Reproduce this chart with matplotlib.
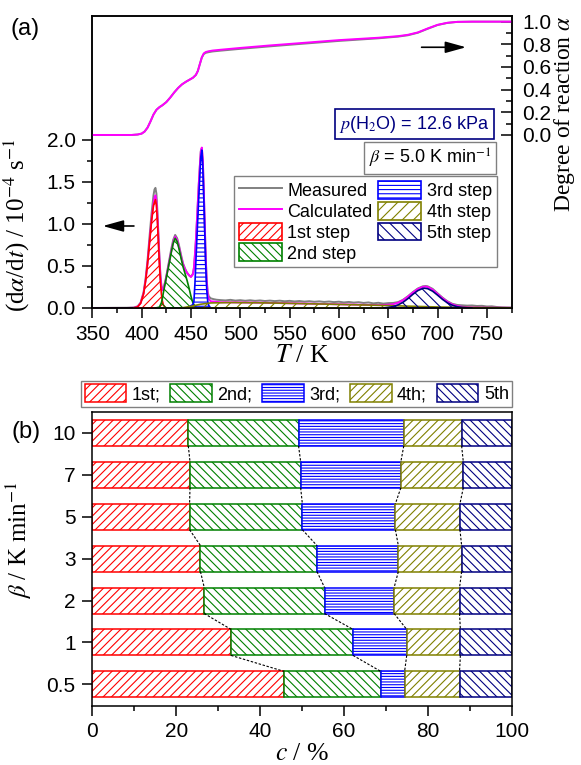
import matplotlib
matplotlib.use('Agg')
import numpy as np
import matplotlib.pyplot as plt
from matplotlib.ticker import MultipleLocator, FixedLocator

# ---- (a) dalpha/dt components (T in K, rate in 1e-4 s^-1) ----
red_T = [392, 396, 399, 402, 404, 406, 408, 410, 412, 414, 415, 416, 417, 418, 419, 420, 421, 422, 424, 426]
red_v = [0.0, 0.014, 0.056, 0.17, 0.32, 0.53, 0.78, 1.03, 1.22, 1.29, 1.22, 1.03, 0.78, 0.53, 0.32, 0.17, 0.085, 0.036, 0.005, 0.0]

green_T = [414, 418, 420, 421, 422, 424, 426, 428, 430, 432, 434, 436, 438, 440, 442, 444, 446, 448, 450, 452, 454, 456]
green_v = [0.0, 0.01, 0.06, 0.11, 0.18, 0.30, 0.42, 0.54, 0.66, 0.77, 0.83, 0.79, 0.70, 0.59, 0.49, 0.41, 0.33, 0.24, 0.14, 0.06, 0.02, 0.0]

blue_T = [446, 449, 452, 453, 454, 455, 456, 457, 458, 459, 460, 461, 462, 463, 464, 465, 466, 467, 468, 470]
blue_v = [0.0, 0.02, 0.04, 0.08, 0.28, 0.55, 0.82, 1.08, 1.34, 1.58, 1.80, 1.88, 1.70, 1.32, 0.90, 0.50, 0.22, 0.08, 0.03, 0.0]

olive_T = [440, 450, 460, 470, 490, 520, 560, 600, 640, 670, 700, 740, 775]
olive_v = [0.0, 0.02, 0.045, 0.06, 0.065, 0.062, 0.053, 0.043, 0.032, 0.022, 0.012, 0.005, 0.002]

navy_T = [645, 650, 655, 660, 665, 670, 675, 680, 685, 687, 690, 695, 700, 705, 710, 715, 720, 725, 730, 735]
navy_v = [0.0, 0.007, 0.017, 0.037, 0.068, 0.112, 0.163, 0.207, 0.233, 0.235, 0.230, 0.200, 0.153, 0.103, 0.061, 0.032, 0.015, 0.006, 0.002, 0.0]

calc_T = [350, 385, 392, 396, 399, 402, 404, 406, 408, 410, 412, 413, 414, 415, 416, 417, 418, 419, 420, 421,
          422, 424, 426, 428, 430, 432, 434, 436, 438, 440, 442, 444, 446, 448, 450, 452, 453, 454, 455, 456,
          457, 458, 459, 460, 461, 462, 463, 464, 465, 466, 467, 468, 470, 480, 500, 520, 560, 600, 640, 650,
          655, 660, 665, 670, 675, 680, 685, 688, 690, 695, 700, 705, 710, 715, 720, 725, 735, 750, 775]
calc_v = [0.0, 0.0, 0.002, 0.015, 0.058, 0.175, 0.325, 0.535, 0.79, 1.04, 1.24, 1.31, 1.34, 1.27, 1.09, 0.84, 0.59, 0.38, 0.25, 0.21,
          0.22, 0.31, 0.43, 0.55, 0.67, 0.78, 0.85, 0.81, 0.72, 0.61, 0.52, 0.46, 0.42, 0.39, 0.37, 0.40, 0.47, 0.62, 0.80, 1.02,
          1.25, 1.48, 1.68, 1.86, 1.91, 1.76, 1.39, 0.97, 0.57, 0.30, 0.16, 0.11, 0.08, 0.068, 0.066, 0.063, 0.054, 0.044, 0.034, 0.038,
          0.045, 0.062, 0.092, 0.135, 0.183, 0.226, 0.251, 0.255, 0.250, 0.218, 0.167, 0.116, 0.073, 0.042, 0.024, 0.014, 0.007, 0.004, 0.002]

meas_T = [350, 370, 385, 392, 396, 399, 402, 404, 406, 408, 410, 412, 413, 414, 415, 416, 417, 418, 419, 420,
          421, 422, 424, 426, 428, 430, 432, 434, 436, 438, 440, 442, 444, 446, 448, 450, 452, 453, 454, 455,
          456, 457, 458, 459, 460, 461, 462, 463, 464, 465, 466, 467, 468, 470, 473, 476, 480, 485, 490, 495,
          500, 505, 510, 515, 520, 525, 530, 535, 540, 545, 550, 555, 560, 565, 570, 575, 580, 585, 590, 595,
          600, 605, 610, 615, 620, 625, 630, 635, 640, 645, 650, 655, 660, 665, 670, 675, 680, 685, 688, 690,
          695, 700, 705, 710, 715, 720, 725, 730, 735, 740, 745, 750, 755, 760, 765, 770, 775]
meas_v = [0.0, 0.002, 0.003, 0.006, 0.02, 0.065, 0.19, 0.35, 0.57, 0.85, 1.12, 1.34, 1.41, 1.43, 1.36, 1.15, 0.88, 0.62, 0.40, 0.27,
          0.22, 0.23, 0.32, 0.44, 0.57, 0.70, 0.81, 0.87, 0.83, 0.74, 0.63, 0.53, 0.47, 0.42, 0.39, 0.37, 0.41, 0.48, 0.63, 0.81,
          1.03, 1.26, 1.49, 1.69, 1.87, 1.90, 1.76, 1.40, 0.99, 0.60, 0.33, 0.19, 0.14, 0.115, 0.105, 0.098, 0.094, 0.09, 0.097, 0.088,
          0.093, 0.086, 0.092, 0.085, 0.09, 0.083, 0.088, 0.082, 0.087, 0.08, 0.085, 0.078, 0.083, 0.076, 0.081, 0.074, 0.079, 0.072, 0.077, 0.07,
          0.075, 0.066, 0.072, 0.064, 0.069, 0.06, 0.066, 0.055, 0.062, 0.052, 0.058, 0.06, 0.07, 0.098, 0.14, 0.19, 0.232, 0.258, 0.262, 0.258,
          0.228, 0.175, 0.124, 0.08, 0.05, 0.036, 0.032, 0.028, 0.03, 0.024, 0.026, 0.018, 0.02, 0.012, 0.008, 0.006, 0.005]

# ---- (a) degree of reaction ----
alpha_T = [350, 390, 396, 400, 403, 406, 409, 412, 415, 418, 421, 425, 429, 433, 437, 441, 445, 449, 452, 455,
           457, 459, 461, 463, 465, 468, 472, 480, 500, 530, 560, 600, 640, 660, 670, 680, 690, 700, 710, 720,
           735, 750, 775]
alpha_calc = [0.0, 0.0, 0.004, 0.012, 0.03, 0.065, 0.12, 0.18, 0.222, 0.245, 0.262, 0.29, 0.33, 0.375, 0.415, 0.447, 0.47, 0.49, 0.505, 0.53,
              0.565, 0.625, 0.685, 0.72, 0.732, 0.739, 0.745, 0.752, 0.768, 0.79, 0.81, 0.837, 0.858, 0.872, 0.884, 0.905, 0.94, 0.972, 0.99, 0.998,
              1.0, 1.0, 1.0]
alpha_meas = [0.0, 0.0, 0.004, 0.012, 0.03, 0.065, 0.12, 0.18, 0.222, 0.245, 0.262, 0.29, 0.33, 0.375, 0.415, 0.447, 0.47, 0.49, 0.505, 0.53,
              0.565, 0.625, 0.683, 0.714, 0.725, 0.731, 0.737, 0.744, 0.760, 0.782, 0.803, 0.830, 0.853, 0.868, 0.880, 0.902, 0.937, 0.970, 0.989, 0.998,
              1.0, 1.0, 1.0]

# ---- (b) step contributions (%) ----
beta_labels = ['0.5', '1', '2', '3', '5', '7', '10']
step1 = [45.7, 33.1, 26.7, 25.8, 23.2, 23.3, 22.9]
step2 = [23.1, 29.1, 28.7, 27.8, 26.9, 26.4, 26.3]
step3 = [5.7, 12.8, 16.6, 19.4, 22.2, 23.9, 25.1]
step4 = [13.1, 12.8, 15.6, 15.1, 15.4, 14.9, 13.8]
step5 = [12.4, 12.2, 12.4, 11.9, 12.3, 11.5, 11.9]

RED, GREEN, BLUE, OLIVE, NAVY = '#FF0000', '#008000', '#0000FF', '#808000', '#000080'
SERIF = 'Liberation Serif'

plt.rcParams['font.family'] = ['Liberation Sans', 'DejaVu Sans']
plt.rcParams['mathtext.fontset'] = 'stix'
plt.rcParams['hatch.linewidth'] = 0.8
plt.rcParams['axes.linewidth'] = 1.1

fig = plt.figure(figsize=(5.81, 7.65), dpi=100)

# ================= (a) =================
ax = fig.add_axes([0.1589, 0.5974, 0.7215, 0.3817])
ax2 = ax.twinx()

ax.plot(meas_T, meas_v, color='#808080', lw=1.4, zorder=2, label='Measured')
ax.plot(calc_T, calc_v, color='#FF00FF', lw=1.4, zorder=2.1, label='Calculated')
comps = [(red_T, red_v, RED, '////', '1st step'),
         (green_T, green_v, GREEN, '\\\\\\\\', '2nd step'),
         (blue_T, blue_v, BLUE, '----', '3rd step'),
         (olive_T, olive_v, OLIVE, '///', '4th step'),
         (navy_T, navy_v, NAVY, '\\\\\\', '5th step')]
for T, v, c, h, lab in comps:
    ax.fill_between(T, 0, v, facecolor='none', edgecolor=c, hatch=h, lw=1.2, zorder=3, label=lab)

ax2.plot(alpha_T, alpha_meas, color='#808080', lw=1.4)
ax2.plot(alpha_T, alpha_calc, color='#FF00FF', lw=1.4)

ax.set_xlim(350, 775)
ax.set_ylim(0, 3.476)
ax2.set_ylim(-1.527, 1.05)
ax.xaxis.set_major_locator(MultipleLocator(50))
ax.xaxis.set_minor_locator(MultipleLocator(25))
ax.yaxis.set_major_locator(FixedLocator([0, 0.5, 1.0, 1.5, 2.0]))
ax.yaxis.set_minor_locator(FixedLocator([0.25, 0.75, 1.25, 1.75]))
ax.set_yticklabels(['0.0', '0.5', '1.0', '1.5', '2.0'])
ax2.yaxis.set_major_locator(FixedLocator([0, 0.2, 0.4, 0.6, 0.8, 1.0]))
ax2.yaxis.set_minor_locator(FixedLocator([0.1, 0.3, 0.5, 0.7, 0.9]))
ax2.set_yticklabels(['0.0', '0.2', '0.4', '0.6', '0.8', '1.0'])

ax.tick_params(axis='both', which='major', direction='out', length=7, width=1.1, labelsize=15, pad=5)
ax.tick_params(axis='both', which='minor', direction='out', length=3.8, width=1.1)
ax.tick_params(axis='y', right=False)
ax2.tick_params(axis='y', which='major', direction='in', length=8, width=1.1, labelsize=15, pad=7.5)
ax2.tick_params(axis='y', which='minor', direction='in', length=4, width=1.1)

ax.set_xlabel('$T$ / K', family=SERIF, fontsize=18.5, labelpad=1)
ax.set_ylabel(r'(d$\alpha$/d$t$) / 10$^{-4}$ s$^{-1}$', family=SERIF, fontsize=18)
ax.yaxis.set_label_coords(-0.143, 0.284)
ax2.set_ylabel(r'Degree of reaction $\alpha$', family=SERIF, fontsize=17)
ax2.yaxis.set_label_coords(1.097, 0.664)

leg = ax.legend(ncol=2, loc='center', bbox_to_anchor=(0.6514, 0.2957), fontsize=13,
                handlelength=2.4, handleheight=1.15, labelspacing=0.1, columnspacing=0.3,
                handletextpad=0.3, borderpad=0.25, borderaxespad=0, fancybox=False,
                edgecolor='#808080', framealpha=1)
leg.get_frame().set_linewidth(1.0)

ax.text(0.7686, 0.630, r'$p$(H$_2$O) = 12.6 kPa', transform=ax.transAxes, ha='center', va='center',
        fontsize=13, color=NAVY,
        bbox=dict(boxstyle='square,pad=0.25', fc='white', ec=NAVY, lw=1.2))
ax.text(0.8056, 0.5137, r'$\beta$ = 5.0 K min$^{-1}$', transform=ax.transAxes, ha='center', va='center',
        fontsize=13, color='black',
        bbox=dict(boxstyle='square,pad=0.25', fc='white', ec='#808080', lw=1.0))

ax.annotate('', xy=(357.8, 0.976), xytext=(395, 0.976),
            arrowprops=dict(arrowstyle='-|>,head_length=0.9,head_width=0.25', color='k', lw=1.2, mutation_scale=14))
ax2.annotate('', xy=(731.7, 0.774), xytext=(681, 0.774),
             arrowprops=dict(arrowstyle='-|>,head_length=0.9,head_width=0.25', color='k', lw=1.2, mutation_scale=14))

fig.text(0.043, 0.962, '(a)', fontsize=17, ha='center', va='center')

# ================= (b) =================
axb = fig.add_axes([0.1589, 0.0775, 0.7215, 0.3835])
ypos = np.arange(len(beta_labels))
bar_h = 0.62
steps = [step1, step2, step3, step4, step5]
colors = [RED, GREEN, BLUE, OLIVE, NAVY]
hatches = ['////', '\\\\\\\\', '------', '////', '\\\\\\\\']
names = ['1st;', '2nd;', '3rd;', '4th;', '5th']
left = np.zeros(len(beta_labels))
cums = []
for s, c, h, n in zip(steps, colors, hatches, names):
    axb.barh(ypos, s, left=left, height=bar_h, facecolor='white', edgecolor=c, hatch=h, lw=1.1, label=n, zorder=2)
    left = left + np.array(s)
    cums.append(left.copy())

# dashed connectors between step boundaries
for cum in cums[:4]:
    for k in range(1, len(ypos)):
        axb.plot([cum[k], cum[k - 1]], [ypos[k] - bar_h / 2, ypos[k - 1] + bar_h / 2],
                 color='k', lw=0.8, dashes=(2.2, 1.5), zorder=3)

axb.set_xlim(0, 100)
axb.set_ylim(-0.51, 6.49)
axb.set_yticks(ypos)
axb.set_yticklabels(beta_labels)
axb.xaxis.set_major_locator(MultipleLocator(20))
axb.xaxis.set_minor_locator(MultipleLocator(10))
axb.tick_params(axis='both', which='major', direction='out', length=7, width=1.1, labelsize=15, pad=5)
axb.tick_params(axis='x', which='minor', direction='out', length=3.8, width=1.1)
axb.set_xlabel('$c$ / %', family=SERIF, fontsize=18.5, labelpad=1)
axb.set_ylabel(r'$\beta$ / K min$^{-1}$', family=SERIF, fontsize=18)
axb.yaxis.set_label_coords(-0.14, 0.565)

legb = axb.legend(ncol=5, loc='center', bbox_to_anchor=(0.4877, 1.063), fontsize=13,
                  handlelength=2.3, handleheight=1.1, columnspacing=0.55, handletextpad=0.3,
                  borderpad=0.2, borderaxespad=0, fancybox=False, edgecolor='#808080', framealpha=1)
legb.get_frame().set_linewidth(1.0)

fig.text(0.0448, 0.4353, '(b)', fontsize=17, ha='center', va='center')

fig.savefig('out.png', dpi=100)
